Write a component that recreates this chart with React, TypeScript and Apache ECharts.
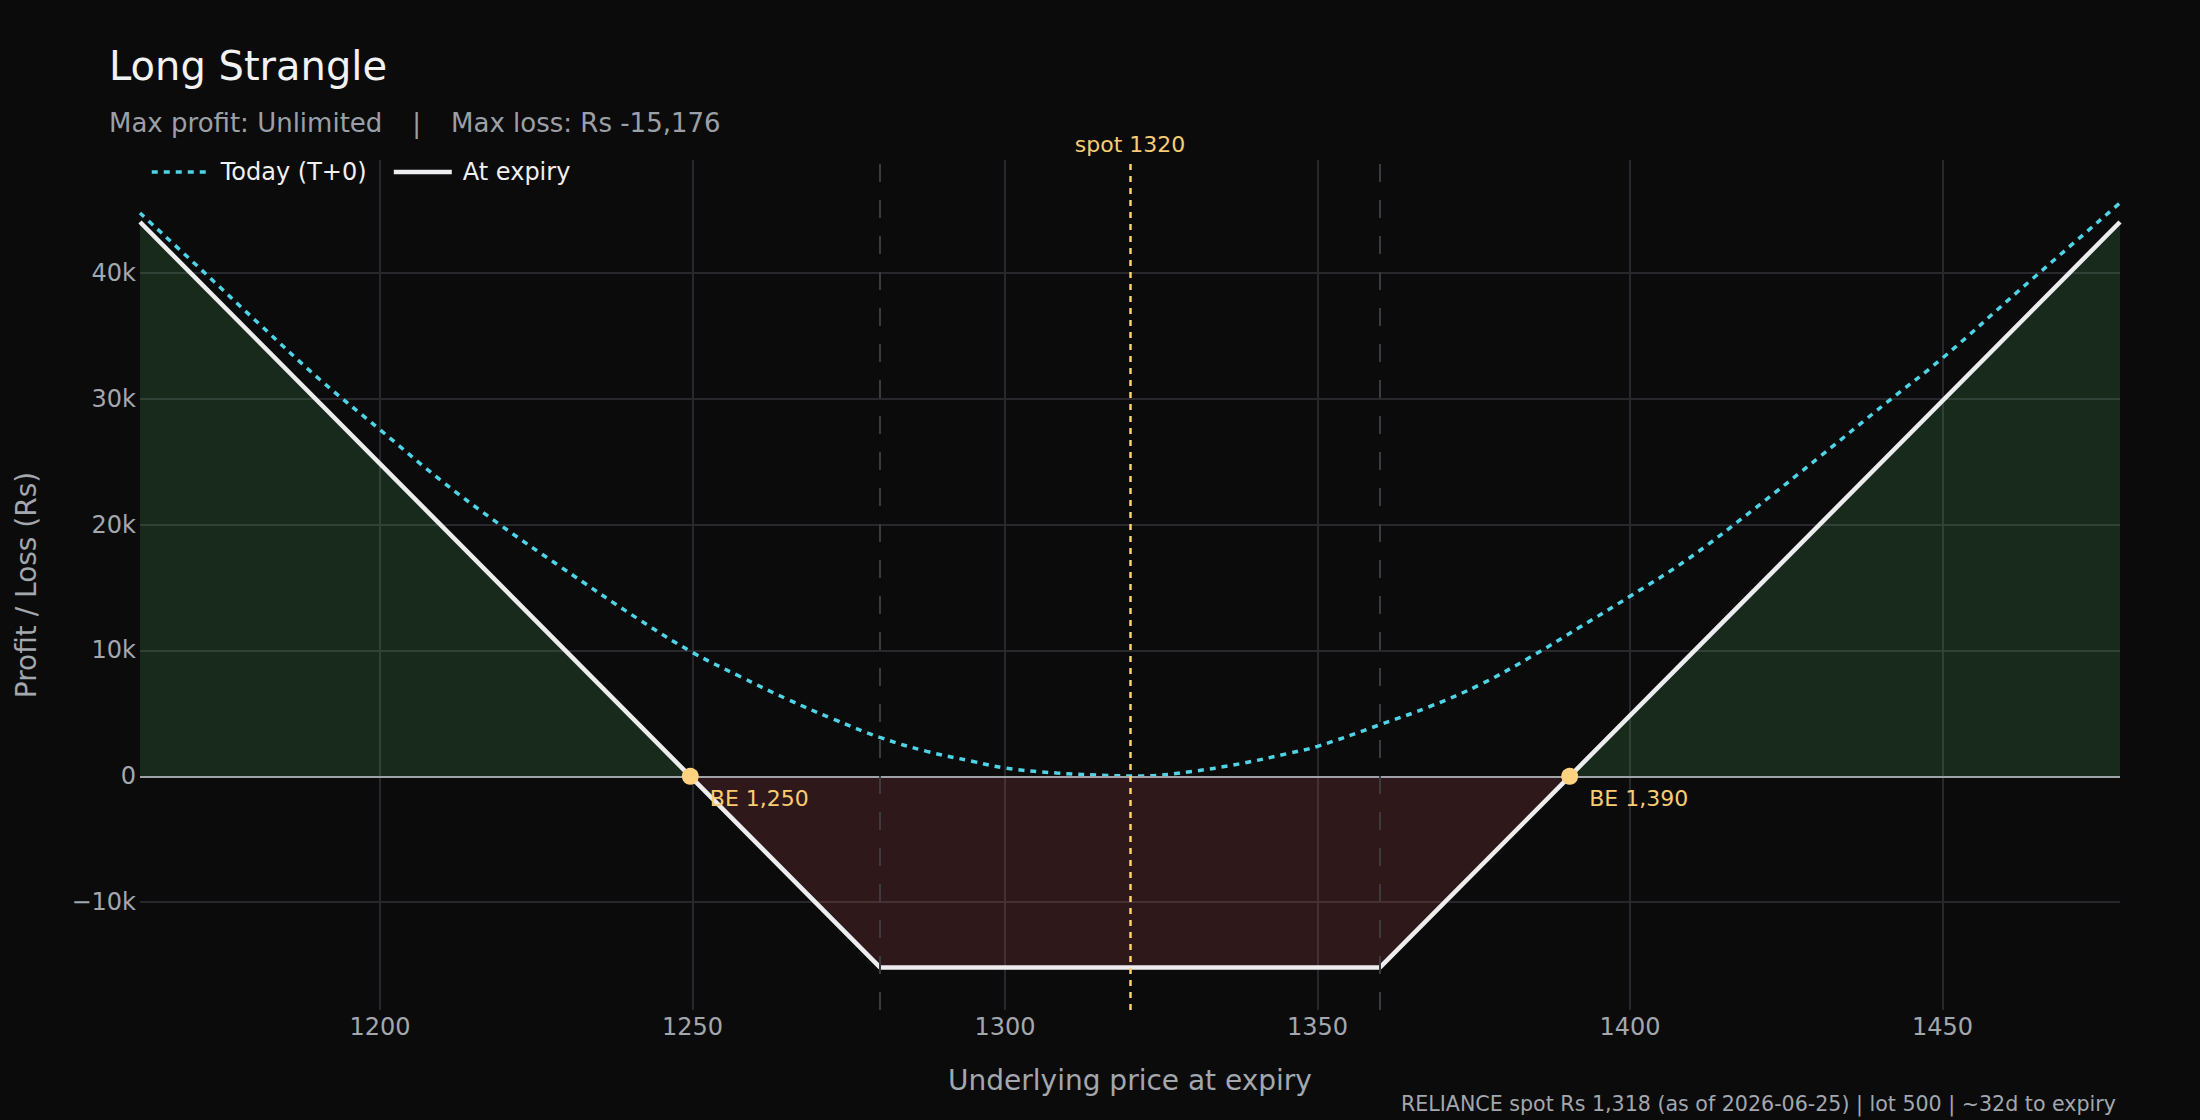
import React, { useEffect, useRef } from 'react';
import * as echarts from 'echarts';

const FONT = "'DejaVu Sans', Verdana, sans-serif";

// Axis ranges
const X_MIN = 1161.6;
const X_MAX = 1478.4;
const Y_MIN = -18560;
const Y_MAX = 48950;

// Strategy levels
const strikes = [1280, 1360];
const spotLevel = 1320;
const breakevens = [1249.65, 1390.35];

// Payoff at expiry (vertices)
const expiryX = [1161.6, 1249.65, 1280, 1360, 1390.35, 1478.4];
const expiryPnl = [44024, 0, -15176, -15176, 0, 44024];

// Today (T+0) curve
const t0X = [1161.6, 1171.2, 1180.8, 1190.4, 1200, 1209.6, 1219.2, 1228.8, 1241.6, 1250, 1257.6, 1265.1, 1272.5, 1280, 1287.5, 1294.9, 1300, 1308.3, 1316.3, 1321.6, 1329.6, 1337.6, 1345.6, 1350, 1360, 1368, 1376, 1384, 1392, 1400, 1409.1, 1419.7, 1430.4, 1441.1, 1450, 1462.4, 1478.4];
const t0Pnl = [44740, 40330, 35870, 31500, 27530, 23560, 19980, 16670, 12400, 9840, 7930, 6140, 4550, 3090, 1980, 1180, 660, 260, 70, 20, 370, 1000, 1850, 2380, 4100, 5550, 7280, 9450, 11850, 14300, 17200, 21170, 25400, 29700, 33220, 38650, 45540];

const legendNames = ['Today (T+0)', 'At expiry'];
const titleText = 'Long Strangle';
const subtitleText = 'Max profit: Unlimited\u00a0\u00a0\u00a0\u2009|\u2009\u00a0\u00a0\u00a0Max loss: Rs -15,176';
const footerText = 'RELIANCE spot Rs 1,318 (as of 2026-06-25) | lot 500 | ~32d to expiry';
const xAxisTitle = 'Underlying price at expiry';
const yAxisTitle = 'Profit / Loss (Rs)';

const BG = '#0b0b0b';
const GRID = '#27272c';
const LABEL = '#a3a7ae';

export default function App() {
  const ref = useRef<HTMLDivElement>(null);

  useEffect(() => {
    const chart = echarts.init(ref.current as HTMLDivElement, null, { renderer: 'svg' });

    const expiry = expiryX.map((x, i) => [x, expiryPnl[i]]);
    const t0 = t0X.map((x, i) => [x, t0Pnl[i]]);
    const profitLeft = expiry.filter((p) => p[0] <= breakevens[0]);
    const profitRight = expiry.filter((p) => p[0] >= breakevens[1]);
    const loss = expiry.filter((p) => p[0] >= breakevens[0] && p[0] <= breakevens[1]);

    const areaBase: any = {
      type: 'line',
      symbol: 'none',
      silent: true,
      lineStyle: { width: 0, opacity: 0 },
      z: 1,
    };
    const profitArea = { color: 'rgba(100,220,130,0.15)', opacity: 1 };
    const lossArea = { color: 'rgba(255,100,110,0.15)', opacity: 1 };

    const kFmt = (v: number) => {
      if (v === 0) return '0';
      const a = Math.abs(v) / 1000;
      return (v < 0 ? '\u2212' : '') + a + 'k';
    };

    const option: any = {
      animation: false,
      backgroundColor: BG,
      textStyle: { fontFamily: FONT },
      title: {
        text: titleText,
        subtext: subtitleText,
        left: 109,
        top: 46,
        padding: 0,
        itemGap: 24,
        textStyle: { color: '#f2f2f2', fontSize: 40, fontWeight: 'normal', fontFamily: FONT, lineHeight: 40 },
        subtextStyle: { color: '#9ba0a8', fontSize: 26, fontFamily: FONT, lineHeight: 26 },
      },
      legend: {
        data: legendNames,
        left: 150,
        top: 160,
        padding: 0,
        itemWidth: 58,
        itemHeight: 14,
        itemGap: 25,
        selectedMode: false,
        itemStyle: { opacity: 0 },
        lineStyle: { width: 'inherit', type: 'inherit' },
        textStyle: { color: '#f0f0f0', fontSize: 24, fontFamily: FONT, lineHeight: 24, padding: [0, 0, 0, 6] },
      },
      grid: { left: 140, right: 80, top: 160, bottom: 110 },
      xAxis: {
        type: 'value',
        min: X_MIN,
        max: X_MAX,
        splitNumber: 6,
        axisLine: { show: false },
        axisTick: { show: false },
        axisLabel: {
          color: LABEL,
          fontSize: 24,
          fontFamily: FONT,
          lineHeight: 24,
          margin: 5,
          showMinLabel: false,
          showMaxLabel: false,
          formatter: (v: number) => String(v),
        },
        splitLine: { show: true, showMinLine: false, showMaxLine: false, lineStyle: { color: GRID, width: 2 } },
        name: xAxisTitle,
        nameLocation: 'middle',
        nameGap: 56,
        nameTextStyle: { color: LABEL, fontSize: 28, lineHeight: 28, fontFamily: FONT },
      },
      yAxis: {
        type: 'value',
        min: Y_MIN,
        max: Y_MAX,
        splitNumber: 6,
        axisLine: { show: false },
        axisTick: { show: false },
        axisLabel: {
          color: LABEL,
          fontSize: 24,
          fontFamily: FONT,
          margin: 4,
          showMinLabel: false,
          showMaxLabel: false,
          formatter: kFmt,
        },
        splitLine: { show: true, showMinLine: false, showMaxLine: false, lineStyle: { color: GRID, width: 2 } },
        name: yAxisTitle,
        nameLocation: 'middle',
        nameGap: 100,
        nameTextStyle: { color: LABEL, fontSize: 28, lineHeight: 28, fontFamily: FONT },
      },
      series: [
        { ...areaBase, name: 'profitLeft', data: profitLeft, areaStyle: profitArea },
        { ...areaBase, name: 'profitRight', data: profitRight, areaStyle: profitArea },
        {
          ...areaBase,
          name: 'loss',
          data: loss,
          areaStyle: lossArea,
          markLine: {
            silent: true,
            symbol: 'none',
            label: { show: false },
            data: [
              { yAxis: 0, lineStyle: { color: '#9ea2a9', width: 2, type: 'solid' } },
              ...strikes.map((s) => ({ xAxis: s, lineStyle: { color: '#3a3a3f', width: 2, type: [18, 18] } })),
            ],
          },
        },
        {
          type: 'line',
          name: legendNames[0],
          data: t0,
          smooth: 0.4,
          symbol: 'none',
          lineStyle: { color: '#4fd3e6', width: 3.5, type: [6, 6] },
          itemStyle: { color: '#4fd3e6' },
          z: 3,
        },
        {
          type: 'line',
          name: legendNames[1],
          data: expiry,
          symbol: 'none',
          lineStyle: { color: '#ededf0', width: 4.5 },
          itemStyle: { color: '#ededf0' },
          z: 4,
          markLine: {
            silent: true,
            symbol: 'none',
            data: [
              {
                xAxis: spotLevel,
                lineStyle: { color: '#ffd166', width: 2.5, type: [6, 6] },
                label: {
                  show: true,
                  position: 'end',
                  distance: 5,
                  formatter: 'spot ' + spotLevel,
                  color: '#f9cd72',
                  fontSize: 22,
                  lineHeight: 22,
                  fontFamily: FONT,
                },
              },
            ],
          },
        },
        {
          type: 'scatter',
          name: 'BE',
          data: breakevens.map((b) => [b, 0]),
          symbolSize: 17,
          itemStyle: { color: '#ffd27f', opacity: 1 },
          z: 5,
          label: {
            show: true,
            position: 'right',
            distance: 11,
            offset: [0, 22],
            color: '#f9cd72',
            fontSize: 22,
            lineHeight: 22,
            fontFamily: FONT,
            formatter: (p: any) => 'BE ' + Math.round(p.value[0]).toLocaleString('en-US'),
          },
        },
      ],
      graphic: [
        {
          type: 'text',
          x: 2116,
          y: 1104,
          silent: true,
          style: {
            text: footerText,
            fill: '#a3a7ae',
            fontSize: 20.6,
            fontFamily: FONT,
            align: 'right',
            verticalAlign: 'middle',
          },
        },
      ],
    };

    chart.setOption(option);
    return () => chart.dispose();
  }, []);

  return <div ref={ref} style={{ position: 'absolute', left: 0, top: 0, width: 2200, height: 1120 }} />;
}
